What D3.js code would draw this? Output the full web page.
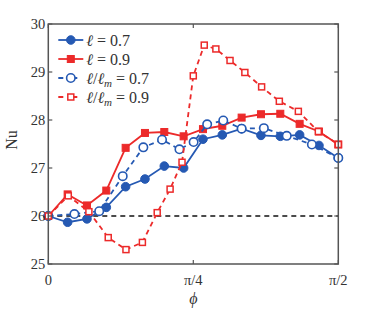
<!DOCTYPE html>
<html>
<head>
<meta charset="utf-8">
<script src="https://cdn.jsdelivr.net/npm/d3@7"></script>
<style>
  body { margin: 0; background: #fff; }
  text { font-family: "Liberation Serif", "DejaVu Serif", serif; fill: #333; }
</style>
</head>
<body>
<div id="chart"></div>
<script>
// phi in degrees (axis shows 0 .. pi/2)
const phiFixed = [0, 6, 12, 18, 24, 30, 36, 42, 48, 54, 60, 66, 72, 78, 84, 90]
const nuL07 = [26.0, 25.87, 25.94, 26.18, 26.61, 26.77, 27.04, 27.0, 27.6, 27.69, 27.82, 27.68, 27.66, 27.69, 27.47, 27.21]
const nuL09 = [26.0, 26.45, 26.22, 26.53, 27.42, 27.73, 27.75, 27.66, 27.81, 27.88, 28.05, 28.12, 28.13, 27.92, 27.76, 27.49]

const phiM07 = [0, 8.1, 15.8, 23.1, 29.5, 35.3, 40.7, 45.1, 49.3, 54.3, 60, 66.9, 74, 81.8, 90]
const nuM07 = [26.0, 26.04, 26.1, 26.83, 27.43, 27.59, 27.39, 27.54, 27.91, 27.99, 27.82, 27.83, 27.67, 27.49, 27.21]

const phiM09 = [0, 6.2, 12.6, 18.6, 24.1, 29.2, 33.8, 37.8, 41.5, 45, 48.4, 52, 56.4, 61, 66.2, 71.7, 77.6, 83.8, 90]
const nuM09 = [26.0, 26.42, 26.09, 25.55, 25.3, 25.45, 26.07, 26.56, 27.12, 28.92, 29.56, 29.48, 29.24, 28.99, 28.69, 28.39, 28.18, 27.76, 27.49]

const xTicks = [0, 45, 90]
const xTickLabels = ['0', 'π/4', 'π/2']
const yTicks = [25, 26, 27, 28, 29, 30]
const baseline = 26

const blue = '#2559b3'
const red = '#ec2a2a'

const series = [
  { phi: phiFixed, nu: nuL07, color: blue, dash: null, marker: 'circle', open: false, label: 'l07' },
  { phi: phiFixed, nu: nuL09, color: red, dash: null, marker: 'square', open: false, label: 'l09' },
  { phi: phiM07, nu: nuM07, color: blue, dash: '5,4', marker: 'circle', open: true, label: 'm07' },
  { phi: phiM09, nu: nuM09, color: red, dash: '5,4', marker: 'square', open: true, label: 'm09' }
]

const size = { width: 374, height: 312 }
const margin = { top: 24, right: 35.7, bottom: 48, left: 48.3 }
const width = size.width - margin.left - margin.right
const height = size.height - margin.top - margin.bottom

const x = d3.scaleLinear().domain([0, 90]).range([0, width])
const y = d3.scaleLinear().domain([25, 30]).range([height, 0])

const svg = d3.select('#chart').append('svg')
  .attr('width', size.width)
  .attr('height', size.height)
  .append('g')
  .attr('transform', `translate(${margin.left}, ${margin.top})`)

// baseline
svg.append('line')
  .attr('x1', x(0)).attr('x2', x(90))
  .attr('y1', y(baseline)).attr('y2', y(baseline))
  .attr('stroke', '#111')
  .attr('stroke-width', 1.5)
  .attr('stroke-dasharray', '5,4')

const line = d3.line().x(d => x(d[0])).y(d => y(d[1]))

function drawMarker (g, s, cx, cy) {
  if (s.marker === 'circle') {
    g.append('circle')
      .attr('cx', cx).attr('cy', cy)
      .attr('r', s.open ? 4.2 : 4.3)
      .attr('fill', s.open ? '#fff' : s.color)
      .attr('stroke', s.color)
      .attr('stroke-width', s.open ? 1.6 : 1)
  } else {
    let a = s.open ? 6 : 7
    g.append('rect')
      .attr('x', cx - a / 2).attr('y', cy - a / 2)
      .attr('width', a).attr('height', a)
      .attr('fill', s.open ? '#fff' : s.color)
      .attr('stroke', s.color)
      .attr('stroke-width', s.open ? 1.5 : 1)
  }
}

series.forEach(s => {
  let pts = s.phi.map((p, i) => [p, s.nu[i]])
  let g = svg.append('g')
  g.append('path')
    .datum(pts)
    .attr('fill', 'none')
    .attr('stroke', s.color)
    .attr('stroke-width', 1.8)
    .attr('stroke-dasharray', s.dash)
    .attr('d', line)
  pts.forEach(d => drawMarker(g, s, x(d[0]), y(d[1])))
})

// frame and ticks
const axisColor = '#555'
svg.append('rect')
  .attr('width', width).attr('height', height)
  .attr('fill', 'none')
  .attr('stroke', axisColor)
  .attr('stroke-width', 1.5)

yTicks.forEach(t => {
  svg.append('line').attr('x1', 0).attr('x2', 4).attr('y1', y(t)).attr('y2', y(t))
    .attr('stroke', axisColor).attr('stroke-width', 1.2)
  svg.append('line').attr('x1', width).attr('x2', width - 4).attr('y1', y(t)).attr('y2', y(t))
    .attr('stroke', axisColor).attr('stroke-width', 1.2)
  svg.append('text')
    .attr('x', -3).attr('y', y(t))
    .attr('dy', '0.35em')
    .attr('text-anchor', 'end')
    .style('font-size', '14.5px')
    .text(t)
})

xTicks.forEach((t, i) => {
  svg.append('line').attr('x1', x(t)).attr('x2', x(t)).attr('y1', height).attr('y2', height - 4)
    .attr('stroke', axisColor).attr('stroke-width', 1.2)
  svg.append('line').attr('x1', x(t)).attr('x2', x(t)).attr('y1', 0).attr('y2', 4)
    .attr('stroke', axisColor).attr('stroke-width', 1.2)
  svg.append('text')
    .attr('x', x(t)).attr('y', height + 21)
    .attr('text-anchor', 'middle')
    .style('font-size', '14.5px')
    .text(xTickLabels[i])
})

// axis titles
svg.append('text')
  .attr('transform', `translate(${-31}, ${height / 2 - 4}) rotate(-90)`)
  .attr('text-anchor', 'middle')
  .style('font-size', '16px')
  .text('Nu')

svg.append('text')
  .attr('x', x(45)).attr('y', height + 40)
  .attr('text-anchor', 'middle')
  .style('font-size', '16px')
  .style('font-style', 'italic')
  .text('ϕ')

// legend
const legend = svg.append('g').attr('transform', 'translate(10, 16)')
series.forEach((s, i) => {
  let row = legend.append('g').attr('transform', `translate(0, ${i * 19})`)
  row.append('line')
    .attr('x1', 0).attr('x2', 25)
    .attr('stroke', s.color)
    .attr('stroke-width', 1.8)
    .attr('stroke-dasharray', s.dash ? '5,9' : null)
  drawMarker(row, s, 12.5, 0)
  let t = row.append('text').attr('x', 28).attr('dy', '0.35em').style('font-size', '16px')
  t.append('tspan').style('font-style', 'italic').text('ℓ')
  if (s.open) {
    t.append('tspan').text('/')
    t.append('tspan').style('font-style', 'italic').text('ℓ')
    t.append('tspan').style('font-style', 'italic').style('font-size', '11px').attr('dy', '3').text('m')
    t.append('tspan').attr('dy', '-3').text(s.label === 'm07' ? ' = 0.7' : ' = 0.9')
  } else {
    t.append('tspan').text(s.label === 'l07' ? ' = 0.7' : ' = 0.9')
  }
})
</script>
</body>
</html>
